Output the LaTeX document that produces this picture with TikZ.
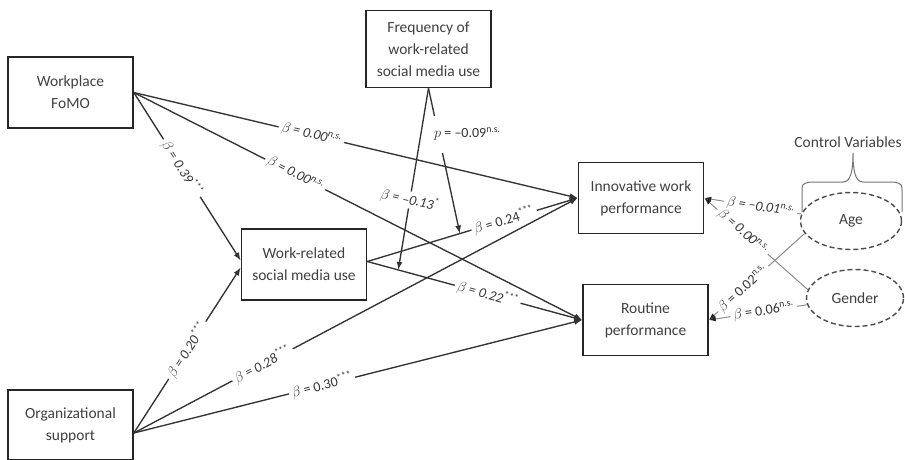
\documentclass[tikz,border=0pt]{standalone}
\usepackage{fontspec}
\setmainfont{Carlito}
\usetikzlibrary{arrows.meta,positioning,shapes.geometric}

\tikzset{
  box/.style={draw=black!85, line width=1.6pt, rectangle, minimum width=125pt, minimum height=71pt, align=center, text=black!75},
  cvar/.style={draw=black!70, ellipse, dash pattern=on 5pt off 3pt, line width=1.4pt, minimum width=101pt, minimum height=57pt, inner sep=0pt, text=black!75},
  link/.style={draw=black!80, line width=1.35pt, -{Latex[length=8pt,width=6pt]}},
  ctrlink/.style={draw=black!45, line width=1pt, -{Latex[length=7pt,width=5pt,color=black!85]}},
  lab/.style={fill=white, inner xsep=3pt, inner ysep=1pt, text=black!80, font=\fontsize{14}{16}\selectfont},
  labi/.style={lab, font=\fontsize{14}{16}\selectfont\itshape}
}

\begin{document}
\begin{tikzpicture}[x=1pt, y=-1pt, every node/.style={font=\fontsize{15.5}{22}\selectfont}]
  \useasboundingbox (0,0) rectangle (905,459);

  % constructs
  \node[box] (fomo) at (70.5,92.5) {Workplace\\FoMO};
  \node[box, minimum height=77pt] (freq) at (428.5,49) {Frequency of\\work-related\\social media use};
  \node[box] (wrsmu) at (304,264.5) {Work-related\\social media use};
  \node[box] (inn) at (641,198) {Innovative work\\performance};
  \node[box] (rout) at (645.5,320) {Routine\\performance};
  \node[box, minimum height=70pt] (org) at (70.5,425) {Organizational\\support};

  % control variables
  \node[cvar] (age) at (851,221) {Age};
  \node[cvar, minimum width=97pt] (gender) at (855,298) {Gender};
  \coordinate (tip) at (853,153);
  \draw[black!55, line width=1pt] (802,212) -- (802,192) .. controls (802,184) .. (810,182) -- (843,182)
    .. controls (851,182) and (853,170) .. (tip) .. controls (853,170) and (855,182) .. (863,182)
    -- (894,182) .. controls (902,184) .. (902,192) -- (902,212);
  \node[above=2pt of tip, xshift=-5pt, text=black!75] (cv) {Control Variables};

  % mediator to outcomes
  \draw[link] ([yshift=3pt]wrsmu.east) -- coordinate[pos=0.44] (m2) (inn.west)
    node[lab, pos=0.65, sloped] {$\beta$ = 0.24\textsuperscript{***}};
  \draw[link] ([yshift=3pt]wrsmu.east) -- coordinate[pos=0.144] (m1) (rout.west)
    node[labi, pos=0.56, sloped] {$\beta$ = 0.22\textsuperscript{***}};

  % moderation
  \draw[link] (freq.south) -- (m1)
    node[labi, pos=0.615, rotate=-12] {$\beta$ = \textendash0.13\textsuperscript{*}};
  \draw[link] (freq.south) -- (m2)
    node[lab, pos=0.317, anchor=west, xshift=-8pt, inner ysep=12pt] {$p$ = \textendash0.09\textsuperscript{n.s.}};

  % workplace FoMO
  \draw[link] (fomo.east) -- (inn.west)
    node[labi, pos=0.40, sloped] {$\beta$ = 0.00\textsuperscript{n.s.}};
  \draw[link] (fomo.east) -- (rout.west)
    node[labi, pos=0.36, sloped] {$\beta$ = 0.00\textsuperscript{n.s.}};
  \draw[link] (fomo.east) -- ([yshift=4pt]wrsmu.west)
    node[labi, pos=0.45, sloped] {$\beta$ = 0.39\textsuperscript{***}};

  % organizational support
  \draw[link] ([yshift=-8pt]org.east) -- ([yshift=-3pt]wrsmu.west)
    node[labi, pos=0.5, sloped] {$\beta$ = 0.20\textsuperscript{***}};
  \draw[link] ([yshift=-8pt]org.east) -- (inn.west)
    node[labi, pos=0.29, sloped] {$\beta$ = 0.28\textsuperscript{***}};
  \draw[link] ([yshift=-8pt]org.east) -- (rout.west)
    node[lab, pos=0.42, sloped] {$\beta$ = 0.30\textsuperscript{***}};

  % controls
  \draw[ctrlink] (age.172) -- (inn.east)
    node[labi, pos=0.42, sloped] {$\beta$ = \textendash0.01\textsuperscript{n.s.}};
  \draw[ctrlink] (gender.170) -- (inn.east)
    node[labi, pos=0.63, sloped] {$\beta$ = 0.00\textsuperscript{n.s.}};
  \draw[ctrlink] (age.195) -- (rout.east)
    node[lab, pos=0.64, sloped] {$\beta$ = 0.02\textsuperscript{n.s.}};
  \draw[ctrlink] (gender.188) -- (rout.east)
    node[lab, pos=0.44, sloped] {$\beta$ = 0.06\textsuperscript{n.s.}};
\end{tikzpicture}
\end{document}
